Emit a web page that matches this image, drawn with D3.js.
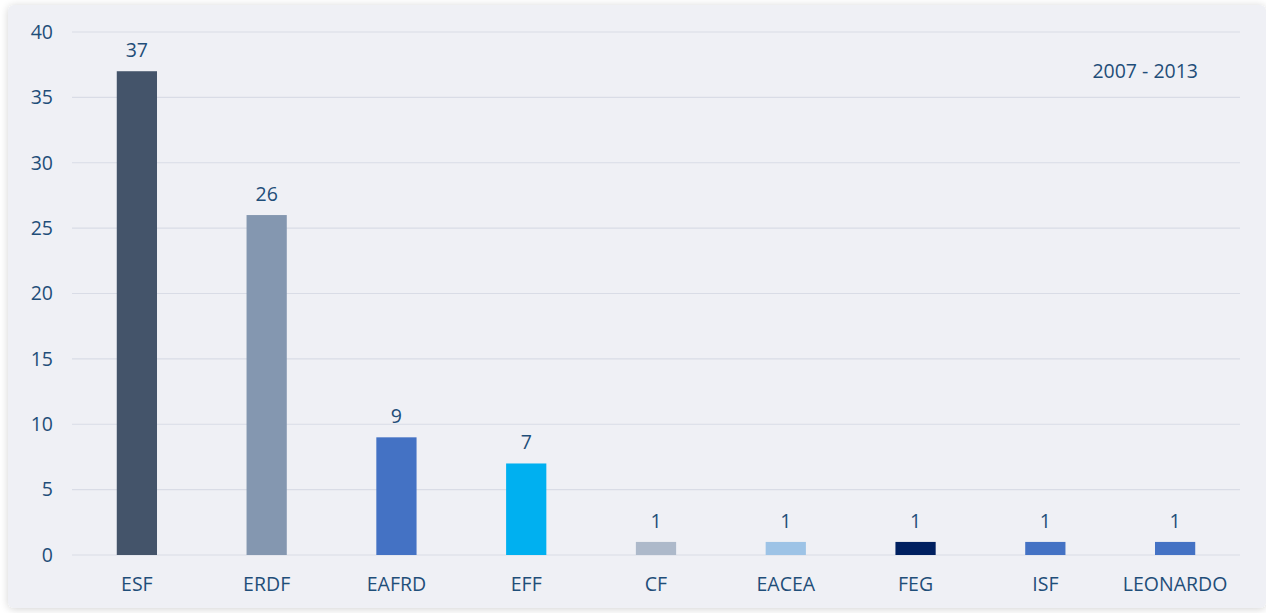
<!DOCTYPE html>
<html lang="en">
<head>
<meta charset="utf-8"/>
<title>Funds 2007 - 2013</title>
<script src="https://d3js.org/d3.v7.min.js"></script>
<style>
	body {margin:0; background:#ffffff; font-family:"Open Sans", sans-serif;}
</style>
</head>
<body>
<script>
// data
var funds = ["ESF", "ERDF", "EAFRD", "EFF", "CF", "EACEA", "FEG", "ISF", "LEONARDO"];
var counts = [37, 26, 9, 7, 1, 1, 1, 1, 1];
var barColours = ["#44546a", "#8497b0", "#4472c4", "#00b0f0", "#adb9ca", "#9dc3e6", "#002060", "#4472c4", "#4472c4"];
var yTicks = [0, 5, 10, 15, 20, 25, 30, 35, 40];
var period = "2007 - 2013";

var w = 1266;
var h = 613;
var textCol = "#1f4e79";
var fontSize = "19.5px";

var svg = d3.select("body").append("svg")
			.attr("width", w)
			.attr("height", h);

// soft shadow + panel
var defs = svg.append("defs");
var f = defs.append("filter").attr("id", "shadow").attr("x", "-5%").attr("y", "-5%").attr("width", "110%").attr("height", "110%");
f.append("feGaussianBlur").attr("in", "SourceAlpha").attr("stdDeviation", 4);
f.append("feOffset").attr("dx", 0).attr("dy", 1).attr("result", "b");
f.append("feComponentTransfer").append("feFuncA").attr("type", "linear").attr("slope", 0.18);
var m = f.append("feMerge");
m.append("feMergeNode");
m.append("feMergeNode").attr("in", "SourceGraphic");

svg.append("rect")
	.attr("x", 8).attr("y", 5)
	.attr("width", w - 8).attr("height", h - 10)
	.attr("rx", 6)
	.attr("fill", "#eff0f5")
	.attr("filter", "url(#shadow)");

// plot edges (not "top", that one belongs to window)
var plotLeft = 72, plotRight = 1240, plotTop = 32, plotBottom = 555;

var xScale = d3.scaleBand()
			.domain(funds)
			.range([plotLeft, plotRight])
			.paddingInner(0.69)
			.paddingOuter(0.345);

var yScale = d3.scaleLinear()
			.domain([0, 40])
			.range([plotBottom, plotTop]);

// gridlines
svg.append("g")
	.selectAll("line")
	.data(yTicks)
	.enter()
	.append("line")
	.attr("x1", plotLeft).attr("x2", plotRight)
	.attr("y1", function(d) {return yScale(d);})
	.attr("y2", function(d) {return yScale(d);})
	.attr("stroke", "#d9dce6")
	.attr("stroke-width", 1.2);

// y axis labels
var yAxis = d3.axisLeft(yScale).tickValues(yTicks).tickSize(0).tickPadding(0);
var gy = svg.append("g").attr("transform", "translate(53,0)").call(yAxis);
gy.select(".domain").remove();
gy.selectAll("text")
	.attr("font-family", "'Open Sans', sans-serif")
	.attr("font-size", fontSize)
	.attr("fill", textCol);

// x axis labels
var xAxis = d3.axisBottom(xScale).tickSize(0).tickPadding(0);
var gx = svg.append("g").attr("transform", "translate(0," + (plotBottom + 22) + ")").call(xAxis);
gx.select(".domain").remove();
gx.selectAll("text")
	.attr("font-family", "'Open Sans', sans-serif")
	.attr("font-size", fontSize)
	.attr("fill", textCol);

// bars
var data = funds.map(function(d, i) {return {name: d, value: counts[i], colour: barColours[i]};});

svg.selectAll("rect.bar")
	.data(data)
	.enter()
	.append("rect")
	.attr("class", "bar")
	.attr("x", function(d) {return xScale(d.name);})
	.attr("y", function(d) {return yScale(d.value);})
	.attr("width", xScale.bandwidth())
	.attr("height", function(d) {return yScale(0) - yScale(d.value);})
	.attr("fill", function(d) {return d.colour;});

// value labels
svg.selectAll("text.val")
	.data(data)
	.enter()
	.append("text")
	.attr("class", "val")
	.attr("x", function(d) {return xScale(d.name) + xScale.bandwidth() / 2;})
	.attr("y", function(d) {return yScale(d.value) - 14;})
	.attr("text-anchor", "middle")
	.attr("font-size", fontSize)
	.attr("fill", textCol)
	.text(function(d) {return d.value;});

// period label
svg.append("text")
	.attr("x", 1198).attr("y", 78)
	.attr("text-anchor", "end")
	.attr("font-size", fontSize)
	.attr("fill", textCol)
	.text(period);
</script>
</body>
</html>
